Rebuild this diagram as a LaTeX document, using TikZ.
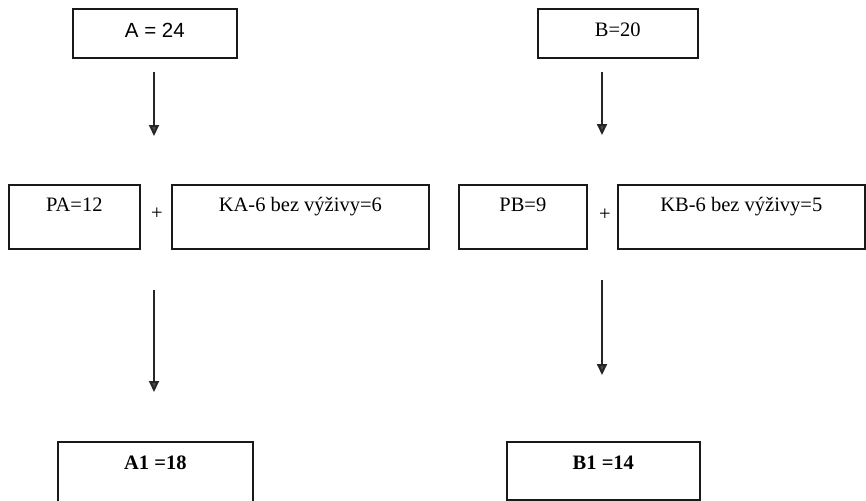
\documentclass[tikz,border=0pt]{standalone}
\usepackage{fontspec}
\setmainfont{Liberation Serif}
\newfontfamily\sansfnt{Liberation Sans}
\usetikzlibrary{arrows.meta}
\begin{document}
\begin{tikzpicture}[x=1pt,y=-1pt,
  every node/.style={font=\fontsize{20.5}{24}\selectfont},
  box/.style={draw=black!90, line width=1.7pt, inner sep=0pt, anchor=north west, align=center},
  arr/.style={line width=2pt, draw=black!85, -{Triangle[length=11pt,width=10pt,fill=black!70]}},
  plus/.style={inner sep=0pt}
]
\useasboundingbox (0,0) rectangle (866,500);
% top row
\node[box, minimum width=164pt, text height=29pt, text depth=20pt] (A) at (72,8) {\sansfnt A = 24};
\node[box, minimum width=160pt, text height=28pt, text depth=21pt] (B) at (537,8) {B=20};
% middle row
\node[box, minimum width=131pt, text height=27pt, text depth=37pt] (PA) at (8,184) {PA=12};
\node[plus] (plA) at (157,214) {+};
\node[box, minimum width=257pt, text height=27pt, text depth=37pt] (KA) at (171,184) {KA-6 bez výživy=6};
\node[box, minimum width=128pt, text height=27pt, text depth=37pt] (PB) at (458,184) {PB=9};
\node[plus] (plB) at (605,215) {+};
\node[box, minimum width=247pt, text height=27pt, text depth=37pt] (KB) at (617,184) {KB-6 bez výživy=5};
% bottom row
\node[box, minimum width=195pt, text height=28pt, text depth=38pt] (A1) at (57,441) {\bfseries A1 =18};
\node[box, minimum width=193pt, text height=28pt, text depth=30pt] (B1) at (506,441) {\bfseries B1 =14};
% arrow coordinates
\coordinate (a1s) at (154,72);
\coordinate (a1e) at (154,136);
\coordinate (b1s) at (602,72);
\coordinate (b1e) at (602,135);
\coordinate (a2s) at (154,290);
\coordinate (a2e) at (154,392);
\coordinate (b2s) at (602,280);
\coordinate (b2e) at (602,375);
\draw[arr] (a1s) -- (a1e);
\draw[arr] (b1s) -- (b1e);
\draw[arr] (a2s) -- (a2e);
\draw[arr] (b2s) -- (b2e);
\end{tikzpicture}
\end{document}
